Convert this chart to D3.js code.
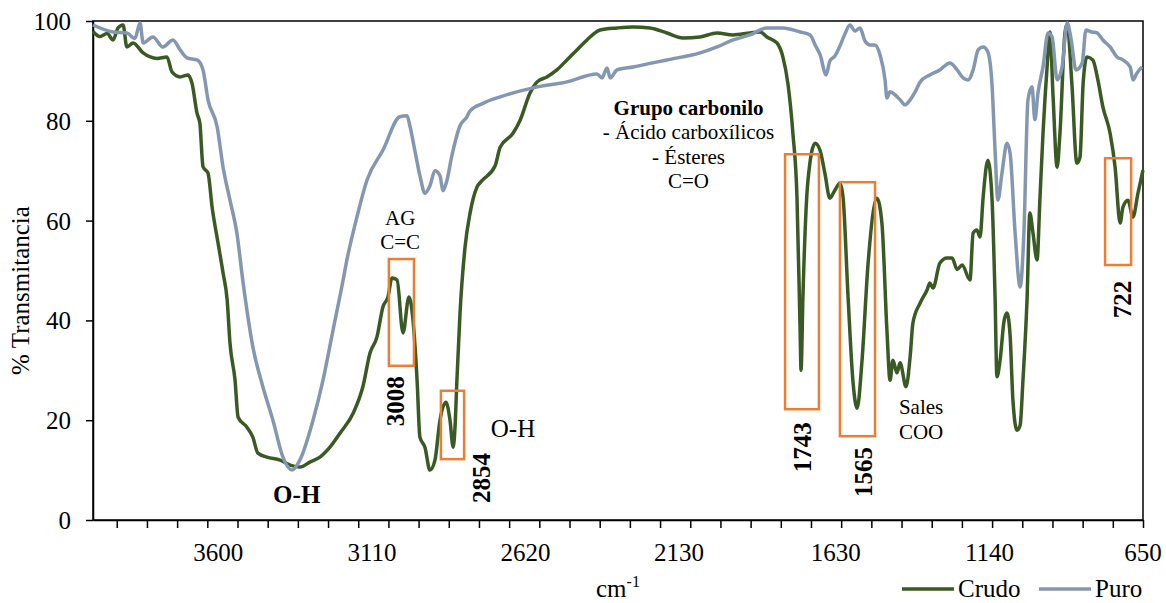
<!DOCTYPE html>
<html>
<head>
<meta charset="utf-8">
<script src="https://cdn.jsdelivr.net/npm/d3@7"></script>
<style>
  body { margin: 0; background: #fff; }
  svg { display: block; font-family: "Liberation Serif", "Times New Roman", serif; }
</style>
</head>
<body>
<div id="chart"></div>
<script>
// wavenumber (cm-1), % transmittance
const crudo = [
  [4000,97.9],[3978,96.9],[3955,97.5],[3936,96.2],[3920,98.6],[3904,99.2],[3892,94.8],[3872,95.6],
  [3840,93.6],[3796,92.5],[3764,92.8],[3748,89.8],[3722,88.8],[3697,89.2],[3684,87.5],[3668,81.5],
  [3659,79.5],[3649,70.8],[3633,69.5],[3620,62.7],[3601,55.5],[3585,49.5],[3572,44.1],[3563,35.5],
  [3547,28.1],[3537,20.6],[3509,18.6],[3490,16.6],[3474,13.4],[3445,12.6],[3403,12],[3371,11],
  [3340,10.6],[3308,11.6],[3276,12.6],[3244,14.6],[3212,17.4],[3170,21.4],[3139,26.7],[3116,33.5],
  [3094,36.7],[3075,42.7],[3059,44.7],[3046,48.5],[3030,48.1],[3011,37.5],[2992,44.7],[2979,40],
  [2966,28],[2957,16.6],[2941,14.6],[2925,10],[2909,12],[2893,20],[2874,23.6],[2861,20],
  [2851,14.6],[2845,18.6],[2839,28],[2829,41.5],[2813,54.7],[2797,61.5],[2775,66.7],[2759,68],
  [2717,71],[2701,74.7],[2660,77.5],[2638,80],[2606,85.5],[2583,87.8],[2552,88.8],[2520,90.2],
  [2488,92.2],[2456,94.2],[2424,96.2],[2382,98.2],[2328,98.6],[2277,98.8],[2223,98.6],[2169,97.6],
  [2118,96.6],[2063,96.8],[2009,97.6],[1958,97.2],[1904,97.6],[1872,97.8],[1850,96.8],[1818,95.6],
  [1799,92.8],[1783,87.5],[1767,77.5],[1754,64.7],[1744,38],[1741,30],[1735,44.7],[1719,68],
  [1696,75.5],[1680,74],[1665,69.5],[1649,64.5],[1633,66.1],[1617,67.5],[1607,64.7],[1591,44.7],
  [1575,27.5],[1562,22.4],[1547,31.5],[1527,51.5],[1499,64.5],[1483,59.5],[1467,38],[1457,28],
  [1448,32],[1435,29.5],[1425,31.5],[1406,26.7],[1393,32.7],[1384,39.5],[1361,43.5],[1339,46.1],
  [1330,47.5],[1320,46.5],[1298,51.5],[1275,52.5],[1259,52.5],[1243,50.2],[1227,51.1],[1202,48.1],
  [1192,57.5],[1180,58.1],[1170,56.7],[1160,64.7],[1145,72.1],[1132,64.7],[1122,44.7],[1116,28.7],
  [1106,32],[1093,40],[1084,41.5],[1074,37],[1065,24],[1052,18],[1042,19],[1033,28],
  [1020,44.1],[1011,61.5],[1001,57.5],[988,52.1],[979,64.1],[969,77.5],[956,90.8],[947,97.8],
  [937,85],[924,70.7],[915,77.5],[899,97.6],[892,99.4],[877,87.5],[861,71.5],[851,72.7],
  [841,87.5],[829,92.8],[810,92.2],[794,88.2],[778,82.8],[755,77.5],[739,70.7],[723,59.5],
  [714,62.7],[698,64.1],[682,60.7],[666,65.5],[650,70.1]
];

const puro = [
  [4000,99.2],[3936,97.8],[3892,97.6],[3866,96.5],[3850,99.6],[3840,95.6],[3809,96.8],[3777,94.8],
  [3745,96.2],[3722,94.2],[3700,92.6],[3668,92.2],[3649,90.2],[3633,84.2],[3604,78.8],[3585,70.7],
  [3563,64.1],[3541,57.5],[3521,47.5],[3490,34.7],[3458,26.7],[3426,20],[3394,12.6],[3365,10],
  [3340,12],[3298,20],[3266,28.1],[3234,38.1],[3202,48.1],[3190,52.1],[3158,60.7],[3126,68.1],
  [3075,74.1],[3021,80.8],[2998,81],[2989,79],[2973,74],[2957,69],[2941,65.5],[2925,67],
  [2909,70],[2893,69],[2883,66],[2871,68],[2855,73],[2829,79],[2807,80.8],[2797,82],
  [2756,83.5],[2701,84.8],[2596,86.6],[2488,87.8],[2392,89.4],[2376,88.6],[2360,90.6],[2350,88.6],
  [2328,90.2],[2277,90.8],[2169,92.2],[2063,93.6],[2009,94.8],[1958,96.2],[1904,97.2],[1850,98.6],
  [1799,98.6],[1744,97.8],[1712,97.2],[1696,95.2],[1680,93.2],[1661,89.2],[1649,92],[1633,93],
  [1617,95],[1601,97.4],[1585,99.2],[1569,98],[1553,98.6],[1537,96],[1521,95.2],[1505,95.2],
  [1489,93.2],[1473,88.2],[1467,84.6],[1457,85.8],[1441,85.2],[1425,84.2],[1409,83.2],[1393,84.2],
  [1377,85.8],[1361,87.8],[1330,89.2],[1298,90.2],[1266,91.6],[1243,90.2],[1224,88.6],[1208,88.2],
  [1192,90.2],[1176,94.2],[1160,94.8],[1145,93.8],[1132,87.5],[1122,74.1],[1113,64.1],[1100,69.5],
  [1084,75.5],[1074,73.5],[1058,57.5],[1042,46.7],[1030,57.5],[1017,84.2],[1004,86.8],[995,80.2],
  [985,85.6],[969,90.8],[953,97.6],[940,96.8],[924,88.2],[908,90.8],[892,99.6],[879,96.2],
  [864,90.2],[844,91.6],[832,98.2],[813,97.8],[797,97.6],[778,96.2],[755,94.8],[733,92.8],
  [714,92.2],[691,90.8],[682,88.2],[669,89.6],[653,90.8]
];

const xLabels = [3600, 3110, 2620, 2130, 1630, 1140, 650];
const yTicks = [0, 20, 40, 60, 80, 100];

// highlighted bands: [wn from, wn to, %T top, %T bottom]
const boxes = [
  [3056, 2976, 52.3, 30.9],
  [2890, 2816, 25.9, 12.2],
  [1792, 1684, 73.3, 22.2],
  [1617, 1505, 67.7, 16.8],
  [771, 688, 72.5, 51.1]
];

// peak labels (rotated), at [wn, %T]
const peakLabels = [
  ["3008", 3038, 23.8],
  ["2854", 2762, 8.4],
  ["1743", 1737, 14.6],
  ["1565", 1543, 9.6],
  ["722", 717, 44.2]
];

const width = 1166, height = 603;
const margin = { top: 21, right: 23, bottom: 83, left: 93 };

const x = d3.scaleLinear().domain([4000, 650]).range([margin.left, width - margin.right]);
const y = d3.scaleLinear().domain([0, 100]).range([height - margin.bottom, margin.top]);

const svg = d3.select("#chart").append("svg")
  .attr("width", width)
  .attr("height", height);

// plot frame
svg.append("rect")
  .attr("x", x(4000)).attr("y", y(100))
  .attr("width", x(650) - x(4000)).attr("height", y(0) - y(100))
  .attr("fill", "none").attr("stroke", "#000").attr("stroke-width", 1.5);

// x axis, ticks only
const minorTicks = d3.range(0, 35).map(k => 650 + k * 96.3);
svg.append("g")
  .attr("transform", `translate(0,${y(0)})`)
  .call(d3.axisBottom(x).tickValues(minorTicks).tickFormat("").tickSizeInner(8).tickSizeOuter(0))
  .call(g => g.select(".domain").attr("stroke-width", 1.5))
  .call(g => g.selectAll(".tick line").attr("stroke-width", 1.5));

svg.append("g").selectAll("text")
  .data(xLabels)
  .join("text")
  .attr("x", d => x(d))
  .attr("y", 561)
  .attr("text-anchor", "middle")
  .attr("font-size", 25)
  .text(d => d);

// y axis
svg.append("g")
  .attr("transform", `translate(${x(4000)},0)`)
  .call(d3.axisLeft(y).tickValues(yTicks).tickSizeInner(7).tickSizeOuter(0).tickPadding(15))
  .call(g => g.select(".domain").attr("stroke-width", 1.5))
  .call(g => g.selectAll(".tick line").attr("stroke-width", 1.5))
  .call(g => g.selectAll(".tick text")
    .attr("font-size", 25)
    .attr("font-family", "Liberation Serif, Times New Roman, serif")
    .attr("fill", "#000")
    .attr("dy", "0.34em"));

svg.append("text")
  .attr("transform", `translate(29,${(y(0) + y(100)) / 2 + 20}) rotate(-90)`)
  .attr("text-anchor", "middle")
  .attr("font-size", 25)
  .text("% Transmitancia");

// x title
const xt = svg.append("text")
  .attr("x", 596).attr("y", 597)
  .attr("font-size", 25);
xt.append("tspan").text("cm");
xt.append("tspan").attr("font-size", 16).attr("dy", -10).text("-1");

// spectra
const line = d3.line()
  .x(d => x(d[0]))
  .y(d => y(d[1]))
  .curve(d3.curveMonotoneX);

const series = [
  { name: "Crudo", data: crudo, color: "#3a5a24" },
  { name: "Puro", data: puro, color: "#8497b0" }
];

svg.append("g").selectAll("path")
  .data(series)
  .join("path")
  .attr("d", d => line(d.data))
  .attr("fill", "none")
  .attr("stroke", d => d.color)
  .attr("stroke-width", 3.5)
  .attr("stroke-linejoin", "round");

// orange boxes
svg.append("g").selectAll("rect")
  .data(boxes)
  .join("rect")
  .attr("x", d => x(d[0]))
  .attr("y", d => y(d[2]))
  .attr("width", d => x(d[1]) - x(d[0]))
  .attr("height", d => y(d[3]) - y(d[2]))
  .attr("fill", "none")
  .attr("stroke", "#ed7d31")
  .attr("stroke-width", 2.5);

svg.append("g").selectAll("text")
  .data(peakLabels)
  .join("text")
  .attr("transform", d => `translate(${x(d[1]) + 9},${y(d[2])}) rotate(-90)`)
  .attr("text-anchor", "middle")
  .attr("font-size", 25)
  .attr("font-weight", "bold")
  .text(d => d[0]);

// notes
const notes = [
  { lines: ["AG", "C=C"], wn: 3020, t: 59.2, size: 21, bold: [] },
  { lines: ["Grupo carbonilo", "- Ácido carboxílicos", "- Ésteres", "C=O"], wn: 2100, t: 81.2, size: 21, bold: [0] },
  { lines: ["Sales", "COO"], wn: 1358, t: 21.2, size: 21, bold: [] }
];

notes.forEach(n => {
  const t = svg.append("text")
    .attr("x", x(n.wn))
    .attr("y", y(n.t))
    .attr("text-anchor", "middle")
    .attr("font-size", n.size);
  n.lines.forEach((l, i) => {
    t.append("tspan")
      .attr("x", x(n.wn))
      .attr("dy", i === 0 ? 0 : 24.5)
      .attr("font-weight", n.bold.includes(i) ? "bold" : "normal")
      .text(l);
  });
});

svg.append("text")
  .attr("x", x(3350)).attr("y", 503)
  .attr("text-anchor", "middle")
  .attr("font-size", 25).attr("font-weight", "bold")
  .text("O-H");

svg.append("text")
  .attr("x", x(2660)).attr("y", 437)
  .attr("text-anchor", "middle")
  .attr("font-size", 25)
  .text("O-H");

// legend
const legend = svg.append("g").attr("transform", "translate(902,589)");
series.forEach((s, i) => {
  const g = legend.append("g").attr("transform", `translate(${i * 137},0)`);
  g.append("line")
    .attr("x1", 0).attr("x2", 52)
    .attr("stroke", s.color).attr("stroke-width", 3.5);
  g.append("text")
    .attr("x", 56).attr("y", 8)
    .attr("font-size", 25)
    .text(s.name);
});
</script>
</body>
</html>
